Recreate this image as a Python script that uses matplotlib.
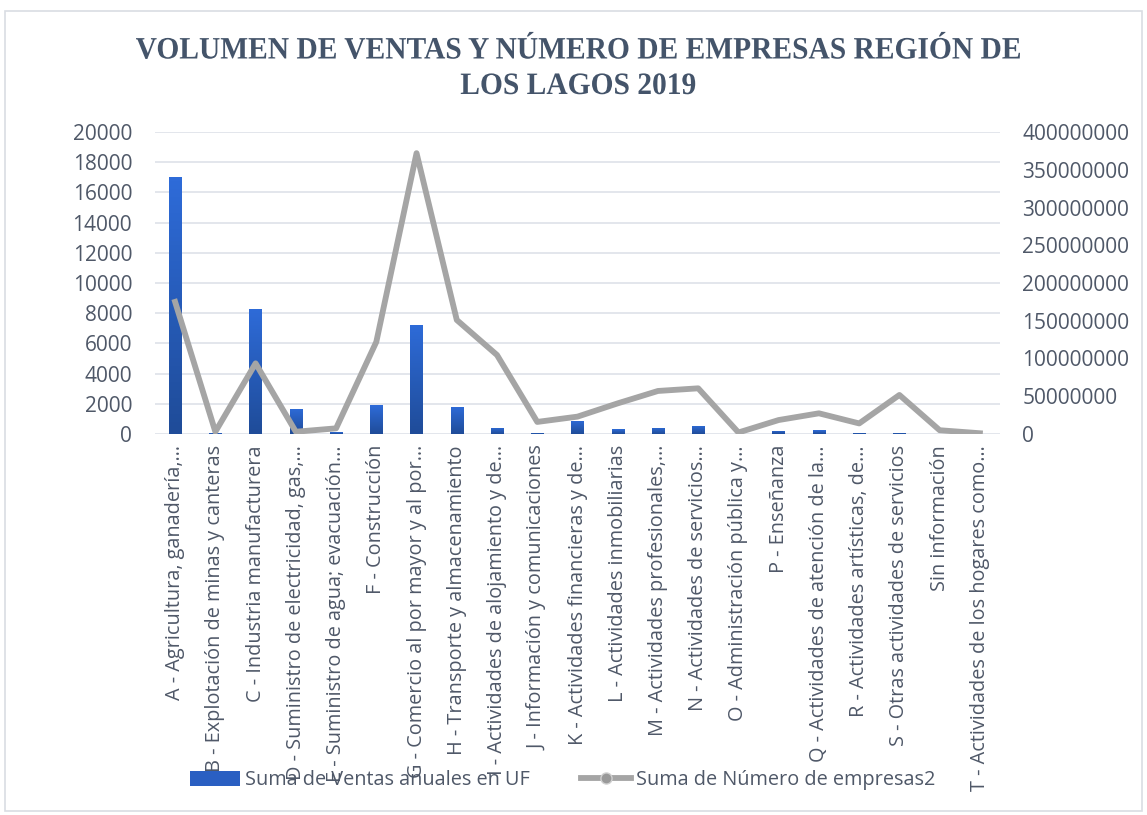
import numpy as np
import matplotlib
matplotlib.use("Agg")
import matplotlib.pyplot as plt
from matplotlib.lines import Line2D
from matplotlib.patches import Rectangle, Patch, PathPatch
from matplotlib.textpath import TextPath
from matplotlib.font_manager import FontProperties
from matplotlib.colors import LinearSegmentedColormap
from matplotlib.transforms import Affine2D

BLUE_TOP, BLUE_BOT = "#2e6bd8", "#1f4c99"
LINE = "#a5a5a5"
GRID = "#e1e4ea"
TXT = "#4f5868"
TITLE = "#44546a"
W, H = 1147, 815

categorias = [
    "A - Agricultura, ganadería,…", "B - Explotación de minas y canteras",
    "C - Industria manufacturera", "D - Suministro de electricidad, gas,…",
    "E - Suministro de agua; evacuación…", "F - Construcción",
    "G - Comercio al por mayor y al por…", "H - Transporte y almacenamiento",
    "I - Actividades de alojamiento y de…", "J - Información y comunicaciones",
    "K - Actividades financieras y de…", "L - Actividades inmobiliarias",
    "M - Actividades profesionales,…", "N - Actividades de servicios…",
    "O - Administración pública y…", "P - Enseñanza",
    "Q - Actividades de atención de la…", "R - Actividades artísticas, de…",
    "S - Otras actividades de servicios", "Sin información",
    "T - Actividades de los hogares como…",
]
ventas = [17000, 60, 8280, 1660, 130, 1920, 7220, 1810, 420, 80,
          870, 330, 400, 550, 0, 200, 260, 80, 80, 0, 0]
empresas = [175e6, 3e6, 93.6e6, 3e6, 7.5e6, 122e6, 372e6, 151e6, 104.6e6, 16e6,
            23e6, 40.6e6, 57e6, 60.5e6, 2e6, 18.5e6, 27.4e6, 14e6, 51.7e6, 5e6, 1e6]
ticks_izq = np.arange(0, 20001, 2000)
ticks_der = np.arange(0, 400000001, 50000000)

plt.rcParams.update({"font.family": ["Open Sans", "DejaVu Sans"]})
fig = plt.figure(figsize=(W / 100, H / 100), dpi=100)
fig.patches.append(Rectangle((0.004, 0.005), 0.992, 0.982, transform=fig.transFigure,
                             fill=False, ec="#d9dde3", lw=1.2))
ax = fig.add_axes([155 / W, 1 - 434 / H, 845 / W, 302 / H])
ax2 = ax.twinx()

x = np.arange(len(categorias))
bars = ax.bar(x, ventas, width=0.31, color=BLUE_TOP, zorder=3)
cmap = LinearSegmentedColormap.from_list("azul", [BLUE_BOT, BLUE_TOP])
grad = np.linspace(0, 1, 64).reshape(-1, 1)
for b in bars:
    if b.get_height() <= 0:
        continue
    x0, w, h = b.get_x(), b.get_width(), b.get_height()
    im = ax.imshow(grad, cmap=cmap, origin="lower", aspect="auto",
                   extent=(x0, x0 + w, 0, h), zorder=3.1)
    im.set_clip_path(b)
ax2.plot(x, empresas, color=LINE, lw=4.2, zorder=4)

ax.set_ylim(0, 20000)
ax.set_yticks(ticks_izq)
ax2.set_ylim(0, 400000000)
ax2.set_yticks(ticks_der)
ax2.set_yticklabels([str(int(v)) for v in ticks_der])
ax.set_xlim(-0.5, len(categorias) - 0.5)
ax.set_xticks(x)
ax.set_xticklabels(categorias, rotation=90, ha="center", va="top")
ax.yaxis.grid(True, color=GRID, lw=1.3, zorder=0)
ax.set_axisbelow(True)
for a in (ax, ax2):
    for s in a.spines.values():
        s.set_visible(False)
    a.tick_params(length=0, labelsize=15, colors=TXT)
ax.tick_params(axis="x", labelsize=14.3, pad=8)
ax.tick_params(axis="y", pad=16.5)
ax2.tick_params(axis="y", pad=16)
ax.set_zorder(ax2.get_zorder() - 1)
ax2.patch.set_visible(False)

# condensed serif title, as in the source image
fp = FontProperties(family="Liberation Serif", weight="bold")
tp1 = TextPath((0, 0), "VOLUMEN DE VENTAS Y NÚMERO DE EMPRESAS REGIÓN DE", size=100, prop=fp)
tp2 = TextPath((0, 0), "LOS LAGOS 2019", size=100, prop=fp)
e1 = tp1.get_extents()
sx = 884 / e1.width
sy = 20.6 / 66.2
for tp, base in ((tp1, 58.5), (tp2, 94)):
    e = tp.get_extents()
    tr = (Affine2D().translate(-(e.x0 + e.width / 2), 0).scale(sx, sy)
          .translate(578, H - base).scale(1 / W, 1 / H) + fig.transFigure)
    fig.patches.append(PathPatch(tp, transform=tr, fc=TITLE, ec="none"))

handles = [Patch(facecolor="#2a5fc2", edgecolor="none"),
           Line2D([], [], color=LINE, lw=4.2, marker="o", ms=8,
                  mfc="#999999", mec="#d0d0d0")]
fig.legend(handles, ["Suma de Ventas anuales en UF", "Suma de Número de empresas2"],
           loc="center left", bbox_to_anchor=(190 / W, 1 - 780 / H), ncol=2,
           frameon=False, fontsize=14.3, labelcolor=TXT, columnspacing=2.6,
           handlelength=2.5, handleheight=0.8, handletextpad=0.25, borderpad=0,
           borderaxespad=0)

fig.savefig("out.png", dpi=100)
